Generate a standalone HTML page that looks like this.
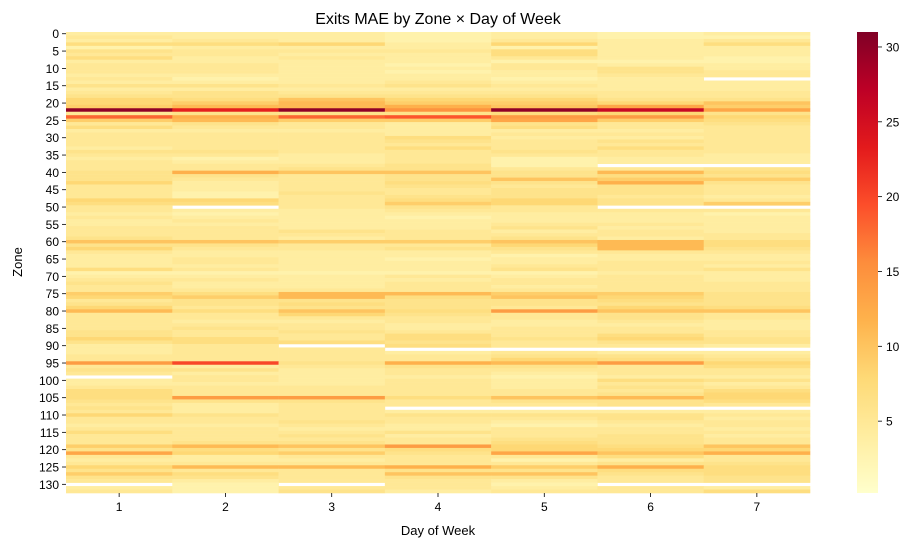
<!DOCTYPE html>
<html><head><meta charset="utf-8">
<style>
body{margin:0;background:#fff;}
svg{display:block;font-family:"Liberation Sans","DejaVu Sans",sans-serif;}
</style></head>
<body>
<svg id="chart" width="916" height="547" viewBox="0 0 916 547" xmlns="http://www.w3.org/2000/svg">
<text x="438" y="24" text-anchor="middle" font-size="16" fill="#000">Exits MAE by Zone × Day of Week</text>
<g id="cells"></g>
<g id="yaxis"></g>
<g id="xaxis"></g>
<text x="438" y="535" text-anchor="middle" font-size="13">Day of Week</text>
<text transform="translate(22,262) rotate(-90)" text-anchor="middle" font-size="13">Zone</text>
<defs><linearGradient id="cbgrad" x1="0" y1="1" x2="0" y2="0"></linearGradient></defs>
<rect x="857" y="32" width="21" height="461" fill="url(#cbgrad)"/>
<g id="cbaxis"></g>
</svg>
<script>
const days = [1,2,3,4,5,6,7];
const colorTicks = [5,10,15,20,25,30];
const vmin = 0.2, vmax = 31;
const N = null;
const rows = [
[4,4,4,3,4,3,4],[5,4,4,3,4,3,3],[4,5,4,3,5,4,5],[7,7,8,4,8,4,7],[3,4,4,4,3,4,4],
[6,5,5,5,7,4,4],[5,5,4,4,7,4,4],[7,4,5,4,5,4,3],[4,4,4,4,3,3,3],[5,5,4,3,5,4,4],
[5,5,4,4,5,6,4],[5,5,4,3,4,6,5],[4,4,4,4,4,5,5],[5,3,4,4,3,4,N],[4,4,4,5,4,4,4],
[6,6,5,6,5,4,4],[4,4,4,4,4,4,4],[5,6,5,5,5,5,5],[6,6,6,6,6,5,5],[8,7,10,8,8,6,6],
[8,9,11,9,9,8,10],[9,11,11,12,10,13,9],[30,23,30,15,30,26,13],[5,6,6,6,7,8,6],[18,12,18,19,14,14,8],
[9,11,9,9,13,9,7],[5,6,5,4,6,5,6],[7,5,5,4,7,5,5],[4,4,4,4,4,4,5],[5,5,5,4,5,5,5],
[5,5,5,7,4,4,5],[5,5,5,6,5,6,5],[5,5,5,5,5,5,5],[4,5,5,7,5,7,5],[6,6,5,5,6,5,5],
[5,5,4,5,5,5,4],[4,3,4,5,3,4,4],[5,4,4,5,3,4,4],[5,5,5,6,3,N,N],[5,5,6,6,5,5,6],
[6,12,10,10,6,11,7],[6,6,5,6,6,7,6],[6,5,5,6,10,9,9],[8,4,5,7,6,12,6],[5,4,5,6,5,6,5],
[5,4,5,5,6,6,5],[5,3,6,5,6,6,5],[5,3,5,6,6,5,4],[8,8,5,7,8,6,5],[7,7,5,9,8,6,9],
[5,N,5,6,5,N,N],[5,4,4,5,5,5,5],[4,3,4,4,4,4,3],[5,4,4,3,4,4,4],[4,5,4,4,4,4,4],
[4,4,4,4,5,5,4],[5,5,4,4,6,4,4],[5,5,6,5,4,5,4],[5,5,5,5,5,5,5],[6,5,4,5,6,4,5],
[10,10,9,9,10,11,7],[6,6,5,5,8,11,7],[8,5,5,6,6,11,6],[5,4,4,4,5,5,5],[4,4,4,4,3,4,4],
[4,5,4,3,4,4,4],[4,5,4,4,4,5,5],[4,4,4,4,5,5,4],[7,5,4,4,6,5,6],[3,3,3,3,3,4,4],
[4,4,4,5,4,5,4],[5,5,4,4,5,5,4],[6,4,4,5,5,5,5],[5,4,4,5,4,5,5],[5,5,5,5,5,5,5],
[9,7,11,11,9,9,6],[8,9,11,7,10,8,6],[5,6,6,6,6,7,6],[6,6,7,6,6,6,6],[8,5,6,6,5,8,7],
[11,7,10,7,14,10,10],[5,5,8,6,5,6,5],[5,5,5,5,5,6,5],[5,4,4,5,4,5,4],[5,5,5,4,4,4,4],
[5,6,5,4,5,5,4],[6,5,6,5,5,5,5],[6,5,5,7,5,7,5],[8,7,5,7,6,8,6],[6,7,7,6,5,6,6],
[4,5,N,7,5,5,4],[4,5,5,N,N,N,N],[4,5,5,4,5,4,4],[5,5,5,5,6,6,5],[5,5,5,5,8,7,6],
[14,20,6,12,11,14,8],[5,4,5,6,6,5,7],[6,6,4,5,5,5,5],[5,4,4,5,4,5,5],[N,5,4,4,3,4,4],
[4,5,4,5,4,7,6],[4,4,4,5,4,5,4],[5,5,5,5,4,6,5],[7,5,5,5,5,5,7],[7,5,5,5,5,6,8],
[7,14,14,7,10,11,8],[6,6,6,5,6,6,7],[5,4,5,5,5,6,5],[6,4,5,N,N,N,N],[5,4,5,4,4,4,4],
[8,6,5,6,6,6,5],[5,5,5,5,5,6,4],[5,5,6,5,4,5,5],[4,4,5,4,3,4,5],[5,5,4,4,5,5,4],
[7,5,5,6,5,5,5],[5,5,6,4,5,6,4],[5,5,5,5,6,6,5],[5,6,6,5,7,6,5],[9,11,10,14,8,7,10],
[6,7,6,7,8,8,8],[13,8,9,6,13,10,12],[5,4,5,5,5,7,5],[4,4,4,5,3,4,5],[5,5,5,5,5,6,6],
[8,11,11,12,9,12,7],[6,5,5,6,6,7,7],[9,7,5,10,10,6,7],[6,6,5,6,6,5,6],[5,4,5,5,4,5,6],
[N,3,N,5,3,N,N],[4,3,5,5,4,5,4],[5,3,6,4,5,5,7]
];
const stops = ["#ffffcc","#ffeda0","#fed976","#feb24c","#fd8d3c","#fc4e2a","#e31a1c","#bd0026","#800026"];
const PL=66, PR=810, PT=32, PB=493, CL=857, CR=878;
const NS="http://www.w3.org/2000/svg";
function hex(h){return [1,3,5].map(i=>parseInt(h.substr(i,2),16));}
function cmap(v){
  let t=Math.max(0,Math.min(1,(v-vmin)/(vmax-vmin)))*(stops.length-1);
  let i=Math.min(stops.length-2,Math.floor(t)), f=t-i;
  let a=hex(stops[i]), b=hex(stops[i+1]);
  return "rgb("+a.map((x,k)=>Math.round(x+(b[k]-x)*f)).join(",")+")";
}
const nRows=rows.length, nCols=days.length;
const xScale=c=>PL+(PR-PL)*c/nCols;
const yScale=r=>PT+(PB-PT)*r/nRows;
const cv=v=>PB-(PB-PT)*(v-vmin)/(vmax-vmin);
function mk(tag,attrs,parent){const e=document.createElementNS(NS,tag);for(const k in attrs)e.setAttribute(k,attrs[k]);parent.appendChild(e);return e;}
const cells=document.getElementById('cells');
rows.forEach((row,r)=>{row.forEach((v,c)=>{
  if(v===null)return;
  const e=mk('rect',{x:xScale(c),y:yScale(r),width:xScale(c+1)-xScale(c)+0.3,height:yScale(r+1)-yScale(r)+0.3,fill:cmap(v)},cells);
  
  
});});
const ya=document.getElementById('yaxis');
for(let r=0;r<nRows;r+=5){
  const y=(yScale(r)+yScale(r+1))/2;
  mk('line',{x1:PL-4,x2:PL,y1:y,y2:y,stroke:'#000','stroke-width':0.8},ya);
  const t=mk('text',{x:PL-7,y:y+4.5,'text-anchor':'end','font-size':12},ya);
  t.textContent=r;
  
  
}
const xa=document.getElementById('xaxis');
days.forEach((d,c)=>{
  const x=(xScale(c)+xScale(c+1))/2;
  mk('line',{x1:x,x2:x,y1:PB,y2:PB+4,stroke:'#000','stroke-width':0.8},xa);
  const t=mk('text',{x:x,y:PB+18,'text-anchor':'middle','font-size':12},xa);
  t.textContent=d;
  
  
});
const g=document.getElementById('cbgrad');
for(let i=0;i<=40;i++){const v=vmin+(vmax-vmin)*i/40;mk('stop',{offset:(i/40),'stop-color':cmap(v)},g);}
const cb=document.getElementById('cbaxis');
colorTicks.forEach(v=>{
  const y=cv(v);
  mk('line',{x1:CR,x2:CR+4,y1:y,y2:y,stroke:'#000','stroke-width':0.8},cb);
  const t=mk('text',{x:CR+8,y:y+4.5,'font-size':12},cb);
  t.textContent=v;
  
  
});
</script>
</body></html>
